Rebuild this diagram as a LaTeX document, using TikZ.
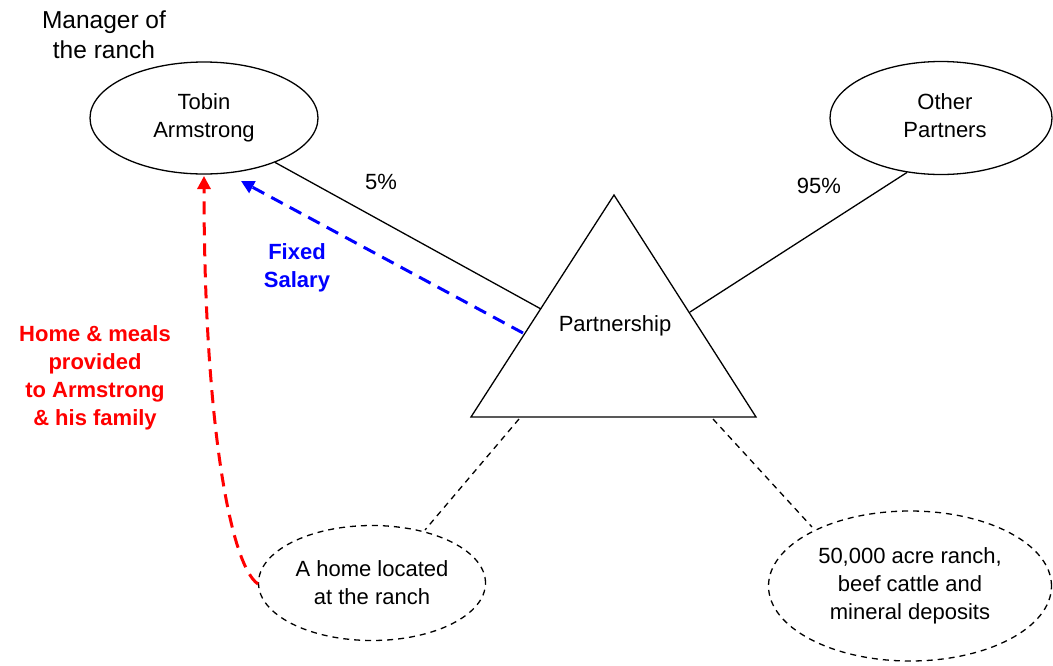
\documentclass[tikz,border=0pt]{standalone}
\usepackage{fontspec}
\setmainfont{Liberation Sans}
\usetikzlibrary{shapes.geometric,arrows.meta}
\definecolor{myblue}{RGB}{0,0,255}
\definecolor{myred}{RGB}{255,0,0}
\begin{document}
\begin{tikzpicture}[x=1pt,y=-1pt,
  txt/.style={font=\fontsize{22}{28}\selectfont,align=center,inner sep=0},
  ell/.style={ellipse,draw,line width=1.3pt,inner sep=0},
  dell/.style={ellipse,draw,line width=1.3pt,inner sep=0,dash pattern=on 6pt off 5pt},
  solidline/.style={line width=1.3pt},
  dline/.style={line width=1.3pt,dash pattern=on 6pt off 5pt},
  bluearrow/.style={myblue,line width=3pt,dash pattern=on 13pt off 8pt,-{Triangle[length=13pt,width=13pt]}},
  redarrow/.style={myred,line width=3pt,dash pattern=on 13pt off 8pt,-{Triangle[length=13pt,width=13pt]}},
  lbl/.style={font=\fontsize{22}{28}\selectfont,align=center,inner sep=0}
]
\useasboundingbox (0,0) rectangle (1053,665);
% ellipses
\node[ell,minimum width=228pt,minimum height=112pt,txt] (tobin) at (204,118) {Tobin\\Armstrong};
\node[ell,minimum width=222pt,minimum height=113pt] (op) at (941,118) {};
\node[txt] (optxt) at (945,116) {Other\\Partners};
\node[dell,minimum width=227pt,minimum height=115pt,txt] (home) at (372,583) {A home located\\at the ranch};
\node[dell,minimum width=283pt,minimum height=150pt,txt] (ranch) at (910,586) {50,000 acre ranch,\\beef cattle and\\mineral deposits};
% triangle
\coordinate (apex) at (614,195);
\coordinate (bl) at (471,417);
\coordinate (br) at (756,417);
\draw[solidline,line join=miter] (apex) -- (bl) -- (br) -- cycle;
\node[txt] (part) at (615,326) {Partnership};
% edge points on triangle
\coordinate (tL) at (541,309);
\coordinate (tR) at (690,312);
\coordinate (bL) at (519,419);
\coordinate (bR) at (713,419);
\coordinate (homeTop) at (425,530);
\coordinate (ranchTop) at (812,527);
% connectors
\draw[solidline] (tobin.328) -- (tL);
\draw[solidline] (op.238) -- (tR);
\draw[dline] (bL) -- (homeTop);
\draw[dline] (bR) -- (ranchTop);
% blue arrow
\coordinate (bS) at (523,333);
\coordinate (bE) at (241,181);
\draw[bluearrow] (bS) -- (bE);
% red arrow
\coordinate (rS) at (258,584);
\coordinate (rE) at (204,176);
\draw[redarrow] (rS) .. controls (230,565) and (204,420) .. (rE);
% labels
\node[lbl,font=\fontsize{24.5}{30}\selectfont] (mgr) at (104,35) {Manager of\\the ranch};
\node[lbl] (p5) at (381,182) {5\%};
\node[lbl] (p95) at (819,186) {95\%};
\node[lbl,text=myblue,font=\fontsize{22}{28}\selectfont\bfseries] (fs) at (297,268) {Fixed\\Salary};
\node[lbl,text=myred,font=\fontsize{22}{28}\selectfont\bfseries] (hm) at (95,378) {Home \& meals\\provided\\to Armstrong\\\& his family};
\end{tikzpicture}
\end{document}
